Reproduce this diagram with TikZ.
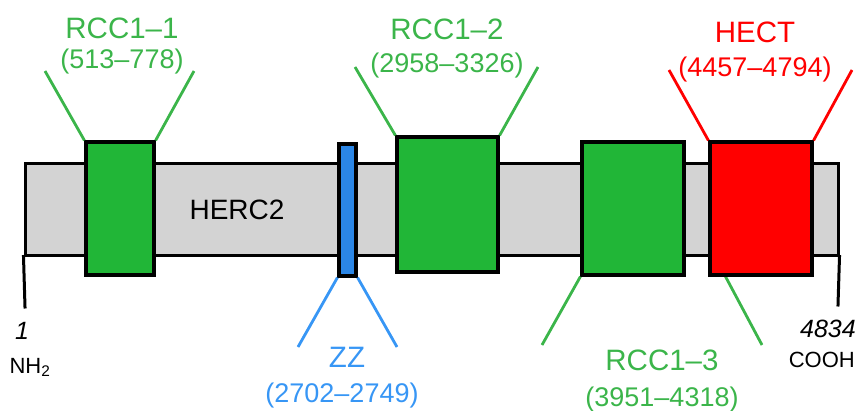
\documentclass[tikz,border=0pt]{standalone}
\usepackage{fontspec}
\setmainfont{Liberation Sans}
\usetikzlibrary{positioning}
\definecolor{domgreen}{RGB}{33,182,55}
\definecolor{labgreen}{RGB}{59,181,74}
\definecolor{zzblue}{RGB}{43,134,230}
\definecolor{labblue}{RGB}{55,150,245}
\definecolor{hectred}{RGB}{255,0,0}
\definecolor{bargray}{RGB}{211,211,211}
\begin{document}
\begin{tikzpicture}[
        x=1pt, y=-1pt,
        dombox/.style={rectangle, draw=black, line width=3.2pt, inner sep=0pt,
            minimum height=133pt},
        bar/.style={rectangle, draw=black, fill=bargray, line width=3pt,
            inner sep=0pt, minimum width=813pt, minimum height=92pt},
        lab/.style={anchor=base, inner sep=0pt, font=\fontsize{27}{32}\selectfont},
        title/.style={lab, font=\fontsize{29.5}{34}\selectfont},
        term/.style={anchor=base, inner sep=0pt, font=\fontsize{22}{26}\selectfont},
        num/.style={term, font=\fontsize{25}{29}\selectfont\itshape},
        link/.style={line width=2.8pt},
    ]
        \useasboundingbox (0,0) rectangle (857,410);

        % protein backbone
        \node[bar] (herc) at (431.5,209) {};
        \node[lab, font=\fontsize{28}{32}\selectfont] (name) at (237,219) {HERC2};
        \coordinate (nend) at (25,307);
        \coordinate (cend) at (838,305);
        \draw[line width=3pt, line cap=rect] (herc.south west) -- (nend);
        \draw[line width=3pt, line cap=rect] (herc.south east) -- (cend);

        % RCC1-3 right leg sits behind HECT
        \coordinate (r3b) at (762,345);
        \draw[link, labgreen] (722,270) -- (r3b);

        % domains
        \node[dombox, fill=domgreen, minimum width=68pt] (rcc1) at (120,208.5) {};
        \node[dombox, fill=zzblue, minimum width=17pt, minimum height=132pt] (zz) at (347.5,210) {};
        \node[dombox, fill=domgreen, minimum width=101pt, minimum height=135pt] (rcc2) at (447.5,204.5) {};
        \node[dombox, fill=domgreen, minimum width=102pt] (rcc3) at (633,208.5) {};
        \node[dombox, fill=hectred, minimum width=102pt] (hect) at (761,208.5) {};

        % legs
        \coordinate (r1a) at (45,71);
        \coordinate (r1b) at (194,71);
        \coordinate (zza) at (298,347);
        \coordinate (zzb) at (397,347);
        \coordinate (r2a) at (355,67);
        \coordinate (r2b) at (538,67);
        \coordinate (r3a) at (542,345);
        \coordinate (hta) at (669,70);
        \coordinate (htb) at (852,70);
        \draw[link, labgreen] (rcc1.north west) -- (r1a);
        \draw[link, labgreen] (rcc1.north east) -- (r1b);
        \draw[link, labblue] (zz.south west) -- (zza);
        \draw[link, labblue] (zz.south east) -- (zzb);
        \draw[link, labgreen] (rcc2.north west) -- (r2a);
        \draw[link, labgreen] (rcc2.north east) -- (r2b);
        \draw[link, labgreen] (rcc3.south west) -- (r3a);
        \draw[link, hectred] (hect.north west) -- (hta);
        \draw[link, hectred] (hect.north east) -- (htb);

        % labels
        \node[title, labgreen] (rcc1name) at (122,38) {RCC1--1};
        \node[lab, labgreen] (rcc1span) at (122,68) {(513--778)};
        \node[title, labgreen] (rcc2name) at (447,39) {RCC1--2};
        \node[lab, labgreen] (rcc2span) at (447,72) {(2958--3326)};
        \node[title, labblue] (zzname) at (347,367) {ZZ};
        \node[lab, labblue] (zzspan) at (342,402) {(2702--2749)};
        \node[title, labgreen] (rcc3name) at (662,370) {RCC1--3};
        \node[lab, labgreen] (rcc3span) at (662,406) {(3951--4318)};
        \node[title, hectred] (hectname) at (755,42) {HECT};
        \node[lab, hectred] (hectspan) at (755,76) {(4457--4794)};

        % termini
        \node[num] (nnum) at (22,339) {1};
        \node[term] (nh) at (30,373) {NH\textsubscript{2}};
        \node[num, anchor=base east] (cnum) at (856,337) {4834};
        \node[term, anchor=base east] (cooh) at (855,367) {COOH};
\end{tikzpicture}
\end{document}
